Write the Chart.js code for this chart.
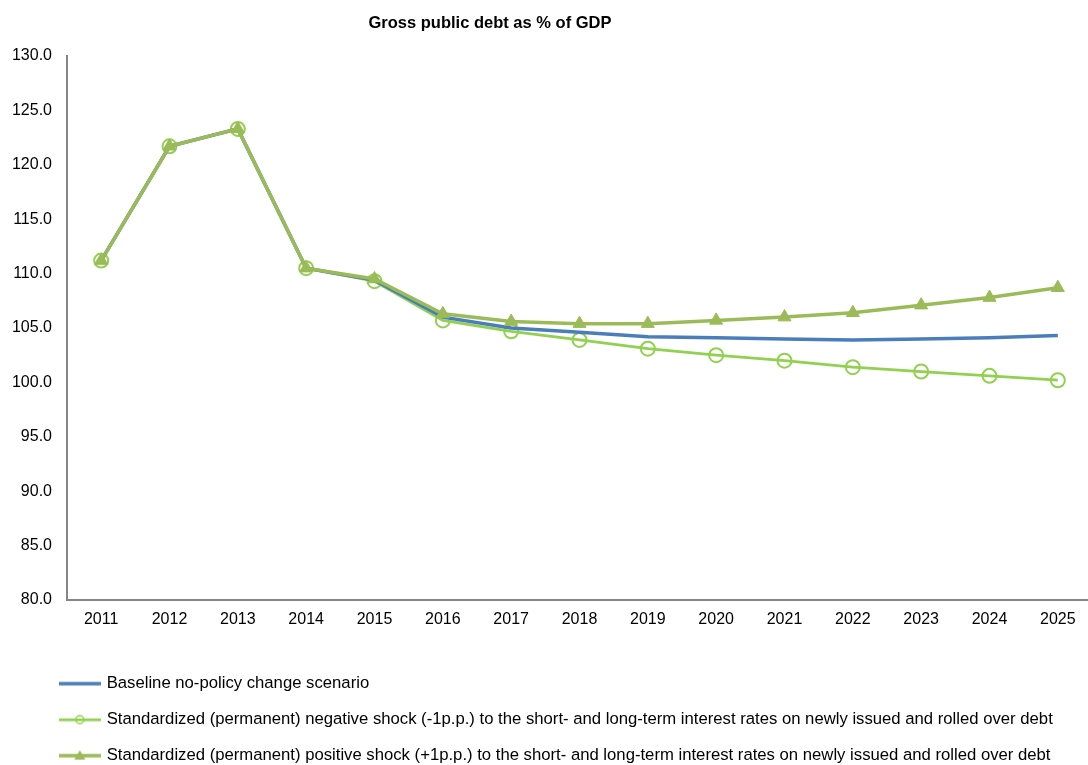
<!DOCTYPE html>
<html>
<head>
<meta charset="utf-8">
<title>Gross public debt as % of GDP</title>
<script src="https://cdn.jsdelivr.net/npm/chart.js@4.4.0/dist/chart.umd.min.js"></script>
<style>
  html, body { margin: 0; padding: 0; background: #fff; overflow: hidden; }
  #wrap { position: relative; width: 1101px; height: 774px; }
  #title {
    position: absolute; left: 240px; top: 12px; width: 500px;
    text-align: center; font: bold 16.5px "Liberation Sans", Arial, sans-serif;
    line-height: 20px; color: #000;
  }
</style>
</head>
<body>
<div id="wrap">
  <canvas id="debtChart"></canvas>
  <div id="title">Gross public debt as % of GDP</div>
</div>
<script>
// Debt path projections, % of GDP
const years = ['2011', '2012', '2013', '2014', '2015', '2016', '2017', '2018', '2019', '2020', '2021', '2022', '2023', '2024', '2025'];
const baseline = [111.2, 121.7, 123.3, 110.5, 109.4, 106.0, 105.0, 104.6, 104.2, 104.1, 104.0, 103.9, 104.0, 104.1, 104.3];
const negShock = [111.2, 121.7, 123.3, 110.5, 109.3, 105.7, 104.7, 103.9, 103.1, 102.5, 102.0, 101.4, 101.0, 100.6, 100.2];
const posShock = [111.2, 121.7, 123.3, 110.5, 109.5, 106.3, 105.6, 105.4, 105.4, 105.7, 106.0, 106.4, 107.1, 107.8, 108.7];

const seriesNames = [
  'Baseline no-policy change scenario',
  'Standardized (permanent) negative shock (-1p.p.) to the short- and long-term interest rates on newly issued and rolled over debt',
  'Standardized (permanent) positive shock (+1p.p.) to the short- and long-term interest rates on newly issued and rolled over debt'
];

const BLUE = '#4A7EBB';
const LIGHT_GREEN = '#92D050';
const OLIVE = '#9BBB59';
const FONT = '"Liberation Sans", Arial, sans-serif';

// little line+marker swatches for the legend
function legendIcon(color, lineWidth, marker) {
  const c = document.createElement('canvas');
  c.width = 42;
  c.height = 14;
  const g = c.getContext('2d');
  g.strokeStyle = color;
  g.lineWidth = lineWidth;
  g.beginPath();
  g.moveTo(0, 7);
  g.lineTo(42, 7);
  g.stroke();
  if (marker === 'circle') {
    g.lineWidth = 1.5;
    g.beginPath();
    g.arc(21, 7, 4, 0, Math.PI * 2);
    g.stroke();
  } else if (marker === 'triangle') {
    g.fillStyle = color;
    g.beginPath();
    g.moveTo(21, 1.5);
    g.lineTo(26.5, 11);
    g.lineTo(15.5, 11);
    g.closePath();
    g.fill();
  }
  return c;
}

const icons = [
  legendIcon(BLUE, 3.5, null),
  legendIcon(LIGHT_GREEN, 2.75, 'circle'),
  legendIcon(OLIVE, 3.5, 'triangle')
];

// push the legend rows right so they start under the plot instead of the canvas edge
const legendInset = {
  id: 'legendInset',
  afterLayout(chart) {
    if (chart.legend) {
      chart.legend.left += 30;
      chart.legend.right += 30;
    }
  }
};

const ctx = document.getElementById('debtChart').getContext('2d');

new Chart(ctx, {
  type: 'line',
  plugins: [legendInset],
  data: {
    labels: years,
    datasets: [
      {
        label: seriesNames[0],
        data: baseline,
        borderColor: BLUE,
        borderWidth: 3.5,
        pointRadius: 0,
        tension: 0,
        order: 2
      },
      {
        label: seriesNames[1],
        data: negShock,
        borderColor: LIGHT_GREEN,
        borderWidth: 2.75,
        pointStyle: 'circle',
        pointRadius: 7,
        pointBorderWidth: 2,
        pointBackgroundColor: 'rgba(0,0,0,0)',
        pointBorderColor: LIGHT_GREEN,
        tension: 0,
        order: 3
      },
      {
        label: seriesNames[2],
        data: posShock,
        borderColor: OLIVE,
        borderWidth: 3.5,
        pointStyle: 'triangle',
        pointRadius: 7.5,
        pointBorderWidth: 1,
        pointBackgroundColor: OLIVE,
        pointBorderColor: OLIVE,
        tension: 0,
        order: 1
      }
    ]
  },
  options: {
    responsive: true,
    maintainAspectRatio: false,
    animation: false,
    layout: {
      padding: { left: 12, top: 56, right: 0, bottom: 0 }
    },
    plugins: {
      title: { display: false },
      tooltip: { enabled: false },
      legend: {
        position: 'bottom',
        align: 'start',
        labels: {
          usePointStyle: true,
          pointStyleWidth: 37,
          padding: 19.3,
          color: '#000',
          font: { family: FONT, size: 16.7 },
          sort: (a, b) => a.datasetIndex - b.datasetIndex,
          generateLabels: chart => chart.data.datasets.map((ds, i) => ({
            text: ds.label,
            datasetIndex: i,
            pointStyle: icons[i],
            fillStyle: ds.borderColor,
            strokeStyle: ds.borderColor,
            lineWidth: 0,
            hidden: false
          }))
        }
      }
    },
    scales: {
      x: {
        offset: true,
        grid: { display: false, drawTicks: false },
        border: { display: true, color: '#868686', width: 2 },
        ticks: {
          color: '#000',
          padding: 10,
          maxRotation: 0,
          font: { family: FONT, size: 16 }
        },
        afterFit: scale => { scale.height = 56; }
      },
      y: {
        min: 80,
        max: 130,
        grid: { display: false, drawTicks: false },
        border: { display: true, color: '#868686', width: 2 },
        ticks: {
          stepSize: 5,
          padding: 15,
          color: '#000',
          font: { family: FONT, size: 16 },
          callback: v => Number(v).toFixed(1)
        },
        afterFit: scale => { scale.width = 55; }
      }
    }
  }
});
</script>
</body>
</html>
